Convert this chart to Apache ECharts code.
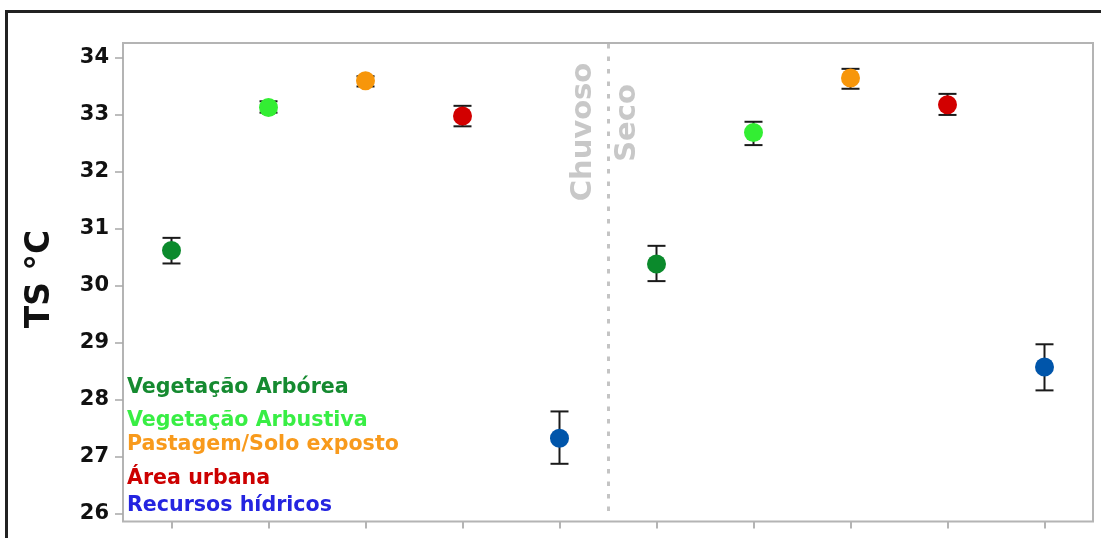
<!DOCTYPE html>
<html>
<head>
<meta charset="utf-8">
<script src="https://cdn.jsdelivr.net/npm/echarts@6/dist/echarts.min.js"></script>
<style>
  html, body { margin: 0; padding: 0; background: #fff; }
  #chart { width: 1101px; height: 538px; }
</style>
</head>
<body>
<div id="chart"></div>
<script>
// ---- data ----
const categories = [
  'Vegetação Arbórea (Chuvoso)', 'Vegetação Arbustiva (Chuvoso)', 'Pastagem/Solo exposto (Chuvoso)', 'Área urbana (Chuvoso)', 'Recursos hídricos (Chuvoso)',
  'Vegetação Arbórea (Seco)', 'Vegetação Arbustiva (Seco)', 'Pastagem/Solo exposto (Seco)', 'Área urbana (Seco)', 'Recursos hídricos (Seco)'
];
const meanTS  = [30.62, 33.13, 33.60, 32.98, 27.32, 30.38, 32.69, 33.65, 33.18, 28.57];
const lowerTS = [30.39, 33.04, 33.50, 32.80, 26.87, 30.08, 32.47, 33.46, 33.00, 28.16];
const upperTS = [30.84, 33.24, 33.68, 33.16, 27.79, 30.70, 32.88, 33.81, 33.37, 28.97];
const classIndex = [0, 1, 2, 3, 4, 0, 1, 2, 3, 4];
const yTicks = [26, 27, 28, 29, 30, 31, 32, 33, 34];
const legendLabels = ['Vegetação Arbórea', 'Vegetação Arbustiva', 'Pastagem/Solo exposto', 'Área urbana', 'Recursos hídricos'];
const seasonLabels = ['Chuvoso', 'Seco'];
const yAxisTitle = 'TS °C';

// ---- styles ----
const markerColors = ['#0b8a2c', '#33ee33', '#f7960a', '#d20000', '#0055aa'];
const legendColors = ['#158a30', '#38ee44', '#f89a1c', '#cc0000', '#2424e0'];
const legendY = [387.5, 420.5, 444.5, 478.5, 505.5];
const FONT = '"DejaVu Sans", sans-serif';

const chart = echarts.init(document.getElementById('chart'), null, { renderer: 'canvas' });

const graphics = [
  // outer black frame (top + left visible)
  { type: 'polyline', shape: { points: [[6.5, 600], [6.5, 11.5], [1200, 11.5]] },
    style: { stroke: '#222', lineWidth: 3, fill: null }, z: 10 },
  { type: 'text', x: 40, y: 279, rotation: Math.PI / 2,
    style: { text: yAxisTitle, font: 'bold 33px ' + FONT, fill: '#111', textAlign: 'center', textVerticalAlign: 'middle' } },
  { type: 'text', x: 583, y: 132, rotation: Math.PI / 2,
    style: { text: seasonLabels[0], font: 'bold 29px ' + FONT, fill: '#c8c8c8', textAlign: 'center', textVerticalAlign: 'middle' } },
  { type: 'text', x: 627, y: 123, rotation: Math.PI / 2,
    style: { text: seasonLabels[1], font: 'bold 29px ' + FONT, fill: '#c8c8c8', textAlign: 'center', textVerticalAlign: 'middle' } }
];
legendLabels.forEach((t, i) => {
  graphics.push({ type: 'text', x: 127, y: legendY[i],
    style: { text: t, font: 'bold 20.6px ' + FONT, fill: legendColors[i], textAlign: 'left', textVerticalAlign: 'middle' }, z: 20 });
});

const option = {
  animation: false,
  backgroundColor: '#fff',
  grid: { left: 123, top: 43, right: 8, bottom: 16.5, show: true, borderColor: '#b4b4b4', borderWidth: 2, backgroundColor: 'transparent' },
  xAxis: {
    type: 'category', data: categories, boundaryGap: true,
    axisLine: { show: false },
    axisTick: { show: true, interval: 0, alignWithLabel: true, length: 7, lineStyle: { color: '#b4b4b4', width: 2 } },
    axisLabel: { show: false, interval: 0 },
    splitLine: { show: false }
  },
  yAxis: {
    type: 'value', min: 25.856, max: 34.264,
    axisLine: { show: false },
    axisTick: { show: true, customValues: yTicks, length: 8, lineStyle: { color: '#a8a8a8', width: 1.5 } },
    axisLabel: { show: true, customValues: yTicks, margin: 14, color: '#111', fontWeight: 'bold', fontSize: 21, fontFamily: FONT },
    splitLine: { show: false }
  },
  graphic: graphics,
  series: [
    { // season divider between 5th and 6th categories
      type: 'custom', silent: true, z: 1,
      data: [[4, meanTS[4]]],
      renderItem: function (params, api) {
        const c = api.coord([api.value(0), api.value(1)]);
        const bw = api.size([1, 0])[0];
        const x = Math.round(c[0] + bw / 2) + 0.5;
        const cs = params.coordSys;
        return { type: 'line', shape: { x1: x, y1: cs.y + 1, x2: x, y2: cs.y + cs.height - 3 },
          style: { stroke: '#c4c4c4', lineWidth: 3, lineDash: [4.5, 8] } };
      }
    },
    { // error bars
      type: 'custom', z: 2,
      data: categories.map((c, i) => [i, lowerTS[i], upperTS[i]]),
      encode: { x: 0, y: [1, 2] },
      renderItem: function (params, api) {
        const lo = api.coord([api.value(0), api.value(1)]);
        const hi = api.coord([api.value(0), api.value(2)]);
        const hw = 9;
        const st = { stroke: '#1a1a1a', lineWidth: 2 };
        return { type: 'group', children: [
          { type: 'line', shape: { x1: lo[0], y1: lo[1], x2: hi[0], y2: hi[1] }, style: st },
          { type: 'line', shape: { x1: lo[0] - hw, y1: lo[1], x2: lo[0] + hw, y2: lo[1] }, style: st },
          { type: 'line', shape: { x1: hi[0] - hw, y1: hi[1], x2: hi[0] + hw, y2: hi[1] }, style: st }
        ] };
      }
    },
    { // means
      type: 'scatter', z: 3,
      symbol: 'circle', symbolSize: 19,
      data: meanTS.map((v, i) => ({ value: [i, v], itemStyle: { color: markerColors[classIndex[i]] } })),
      itemStyle: { opacity: 1 }
    }
  ]
};
chart.setOption(option);
</script>
</body>
</html>
